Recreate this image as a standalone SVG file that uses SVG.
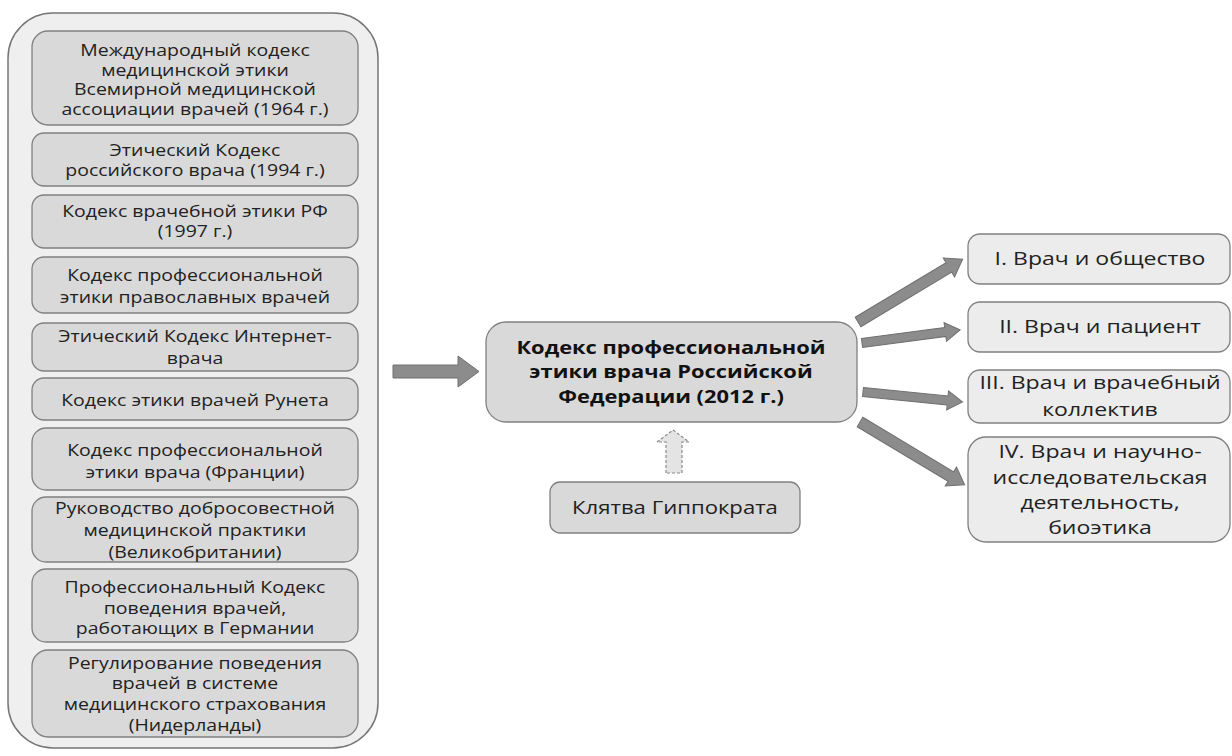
<svg xmlns="http://www.w3.org/2000/svg" width="1232" height="756" viewBox="0 0 1232 756">
<defs>
<style>
.outer{fill:#efefef;stroke:#767676;stroke-width:1.5}
.box{fill:#d9d9d9;stroke:#808080;stroke-width:1.3}
.lbox{fill:#ececec;stroke:#808080;stroke-width:1.3}
.t{font-family:"Open Sans","DejaVu Sans",sans-serif;font-size:16px;fill:#222;text-anchor:middle}
.tr{font-family:"Open Sans","DejaVu Sans",sans-serif;font-size:18px;fill:#222;text-anchor:middle}
.tb{font-family:"Open Sans","DejaVu Sans",sans-serif;font-size:17.5px;font-weight:bold;fill:#111;text-anchor:middle}
.arr{fill:#8c8c8c;stroke:#707070;stroke-width:1}
.darr{fill:#e4e4e4;stroke:#8c8c8c;stroke-width:1.2;stroke-dasharray:3 2}
</style>
</defs>
<rect width="1232" height="756" fill="#ffffff"/>
<g id="group-left">
<rect class="outer" x="8" y="13" width="370" height="735" rx="45"/>
</g>
<g id="n1"><rect class="box" x="32" y="31" width="326" height="94" rx="16"/>
<g transform="translate(195,0) scale(1.217,1)"><text class="t" x="0" y="50.5" dy="0.35em">Международный кодекс</text><text class="t" x="0" y="70" dy="0.35em">медицинской этики</text><text class="t" x="0" y="89.5" dy="0.35em">Всемирной медицинской</text><text class="t" x="0" y="109" dy="0.35em">ассоциации врачей (1964 г.)</text></g></g>
<g id="n2"><rect class="box" x="32" y="133" width="326" height="53" rx="12"/>
<g transform="translate(195,0) scale(1.217,1)"><text class="t" x="0" y="150" dy="0.35em">Этический Кодекс</text><text class="t" x="0" y="170" dy="0.35em">российского врача (1994 г.)</text></g></g>
<g id="n3"><rect class="box" x="32" y="195" width="326" height="53" rx="12"/>
<g transform="translate(195,0) scale(1.217,1)"><text class="t" x="0" y="211.5" dy="0.35em">Кодекс врачебной этики РФ</text><text class="t" x="0" y="231" dy="0.35em">(1997 г.)</text></g></g>
<g id="n4"><rect class="box" x="32" y="257" width="326" height="56" rx="12"/>
<g transform="translate(195,0) scale(1.217,1)"><text class="t" x="0" y="275" dy="0.35em">Кодекс профессиональной</text><text class="t" x="0" y="297" dy="0.35em">этики православных врачей</text></g></g>
<g id="n5"><rect class="box" x="32" y="323" width="326" height="48" rx="12"/>
<g transform="translate(195,0) scale(1.217,1)"><text class="t" x="0" y="336" dy="0.35em">Этический Кодекс Интернет-</text><text class="t" x="0" y="358" dy="0.35em">врача</text></g></g>
<g id="n6"><rect class="box" x="32" y="378" width="326" height="42" rx="12"/>
<g transform="translate(195,0) scale(1.217,1)"><text class="t" x="0" y="400" dy="0.35em">Кодекс этики врачей Рунета</text></g></g>
<g id="n7"><rect class="box" x="32" y="428" width="326" height="62" rx="14"/>
<g transform="translate(195,0) scale(1.217,1)"><text class="t" x="0" y="450" dy="0.35em">Кодекс профессиональной</text><text class="t" x="0" y="472" dy="0.35em">этики врача (Франции)</text></g></g>
<g id="n8"><rect class="box" x="32" y="497" width="326" height="65" rx="14"/>
<g transform="translate(195,0) scale(1.217,1)"><text class="t" x="0" y="508" dy="0.35em">Руководство добросовестной</text><text class="t" x="0" y="530" dy="0.35em">медицинской практики</text><text class="t" x="0" y="552" dy="0.35em">(Великобритании)</text></g></g>
<g id="n9"><rect class="box" x="32" y="569" width="326" height="73" rx="14"/>
<g transform="translate(195,0) scale(1.217,1)"><text class="t" x="0" y="587" dy="0.35em">Профессиональный Кодекс</text><text class="t" x="0" y="608" dy="0.35em">поведения врачей,</text><text class="t" x="0" y="628" dy="0.35em">работающих в Германии</text></g></g>
<g id="n10"><rect class="box" x="32" y="650" width="326" height="87" rx="16"/>
<g transform="translate(195,0) scale(1.217,1)"><text class="t" x="0" y="663" dy="0.35em">Регулирование поведения</text><text class="t" x="0" y="683" dy="0.35em">врачей в системе</text><text class="t" x="0" y="704" dy="0.35em">медицинского страхования</text><text class="t" x="0" y="725" dy="0.35em">(Нидерланды)</text></g></g>
<g id="center"><rect class="box" x="486" y="322" width="371" height="100" rx="20"/>
<g transform="translate(671,0) scale(1.25,1)"><text class="tb" x="0" y="348" dy="0.35em">Кодекс профессиональной</text><text class="tb" x="0" y="372" dy="0.35em">этики врача Российской</text><text class="tb" x="0" y="397" dy="0.35em">Федерации (2012 г.)</text></g></g>
<g id="hippo"><rect class="box" x="550" y="482" width="250" height="51" rx="10"/>
<g transform="translate(675,0) scale(1.23,1)"><text class="tr" x="0" y="508" dy="0.35em">Клятва Гиппократа</text></g></g>
<g id="r1"><rect class="lbox" x="968" y="234" width="262" height="50" rx="12"/>
<g transform="translate(1100,0) scale(1.28,1)"><text class="tr" x="0" y="259" dy="0.35em">I. Врач и общество</text></g></g>
<g id="r2"><rect class="lbox" x="968" y="302" width="262" height="50" rx="12"/>
<g transform="translate(1100,0) scale(1.28,1)"><text class="tr" x="0" y="327" dy="0.35em">II. Врач и пациент</text></g></g>
<g id="r3"><rect class="lbox" x="968" y="370" width="262" height="53" rx="12"/>
<g transform="translate(1100,0) scale(1.28,1)"><text class="tr" x="0" y="383" dy="0.35em">III. Врач и врачебный</text><text class="tr" x="0" y="410" dy="0.35em">коллектив</text></g></g>
<g id="r4"><rect class="lbox" x="968" y="437" width="262" height="105" rx="18"/>
<g transform="translate(1100,0) scale(1.28,1)"><text class="tr" x="0" y="452" dy="0.35em">IV. Врач и научно-</text><text class="tr" x="0" y="478" dy="0.35em">исследовательская</text><text class="tr" x="0" y="503" dy="0.35em">деятельность,</text><text class="tr" x="0" y="528" dy="0.35em">биоэтика</text></g></g>
<g id="connectors">
<path class="arr" d="M393,365 H458 V356 L479,371.5 L458,387 V378 H393 Z"/>
<path class="darr" d="M666,473 V442 H657 L673,430 L689,442 H682 V473 Z"/>
<path class="arr" transform="translate(858,322) rotate(-30.96)" d="M0,-5.5 H106 V-11 L122,0 L106,11 V5.5 H0 Z"/>
<path class="arr" transform="translate(862,343) rotate(-7.56)" d="M0,-4.5 H84 V-9.5 L99,0 L84,9.5 V4.5 H0 Z"/>
<path class="arr" transform="translate(863,392) rotate(5.71)" d="M0,-4.5 H85 V-9.5 L100,0 L85,9.5 V4.5 H0 Z"/>
<path class="arr" transform="translate(860,422) rotate(30.96)" d="M0,-5.5 H106 V-11 L122,0 L106,11 V5.5 H0 Z"/>
</g>
</svg>
